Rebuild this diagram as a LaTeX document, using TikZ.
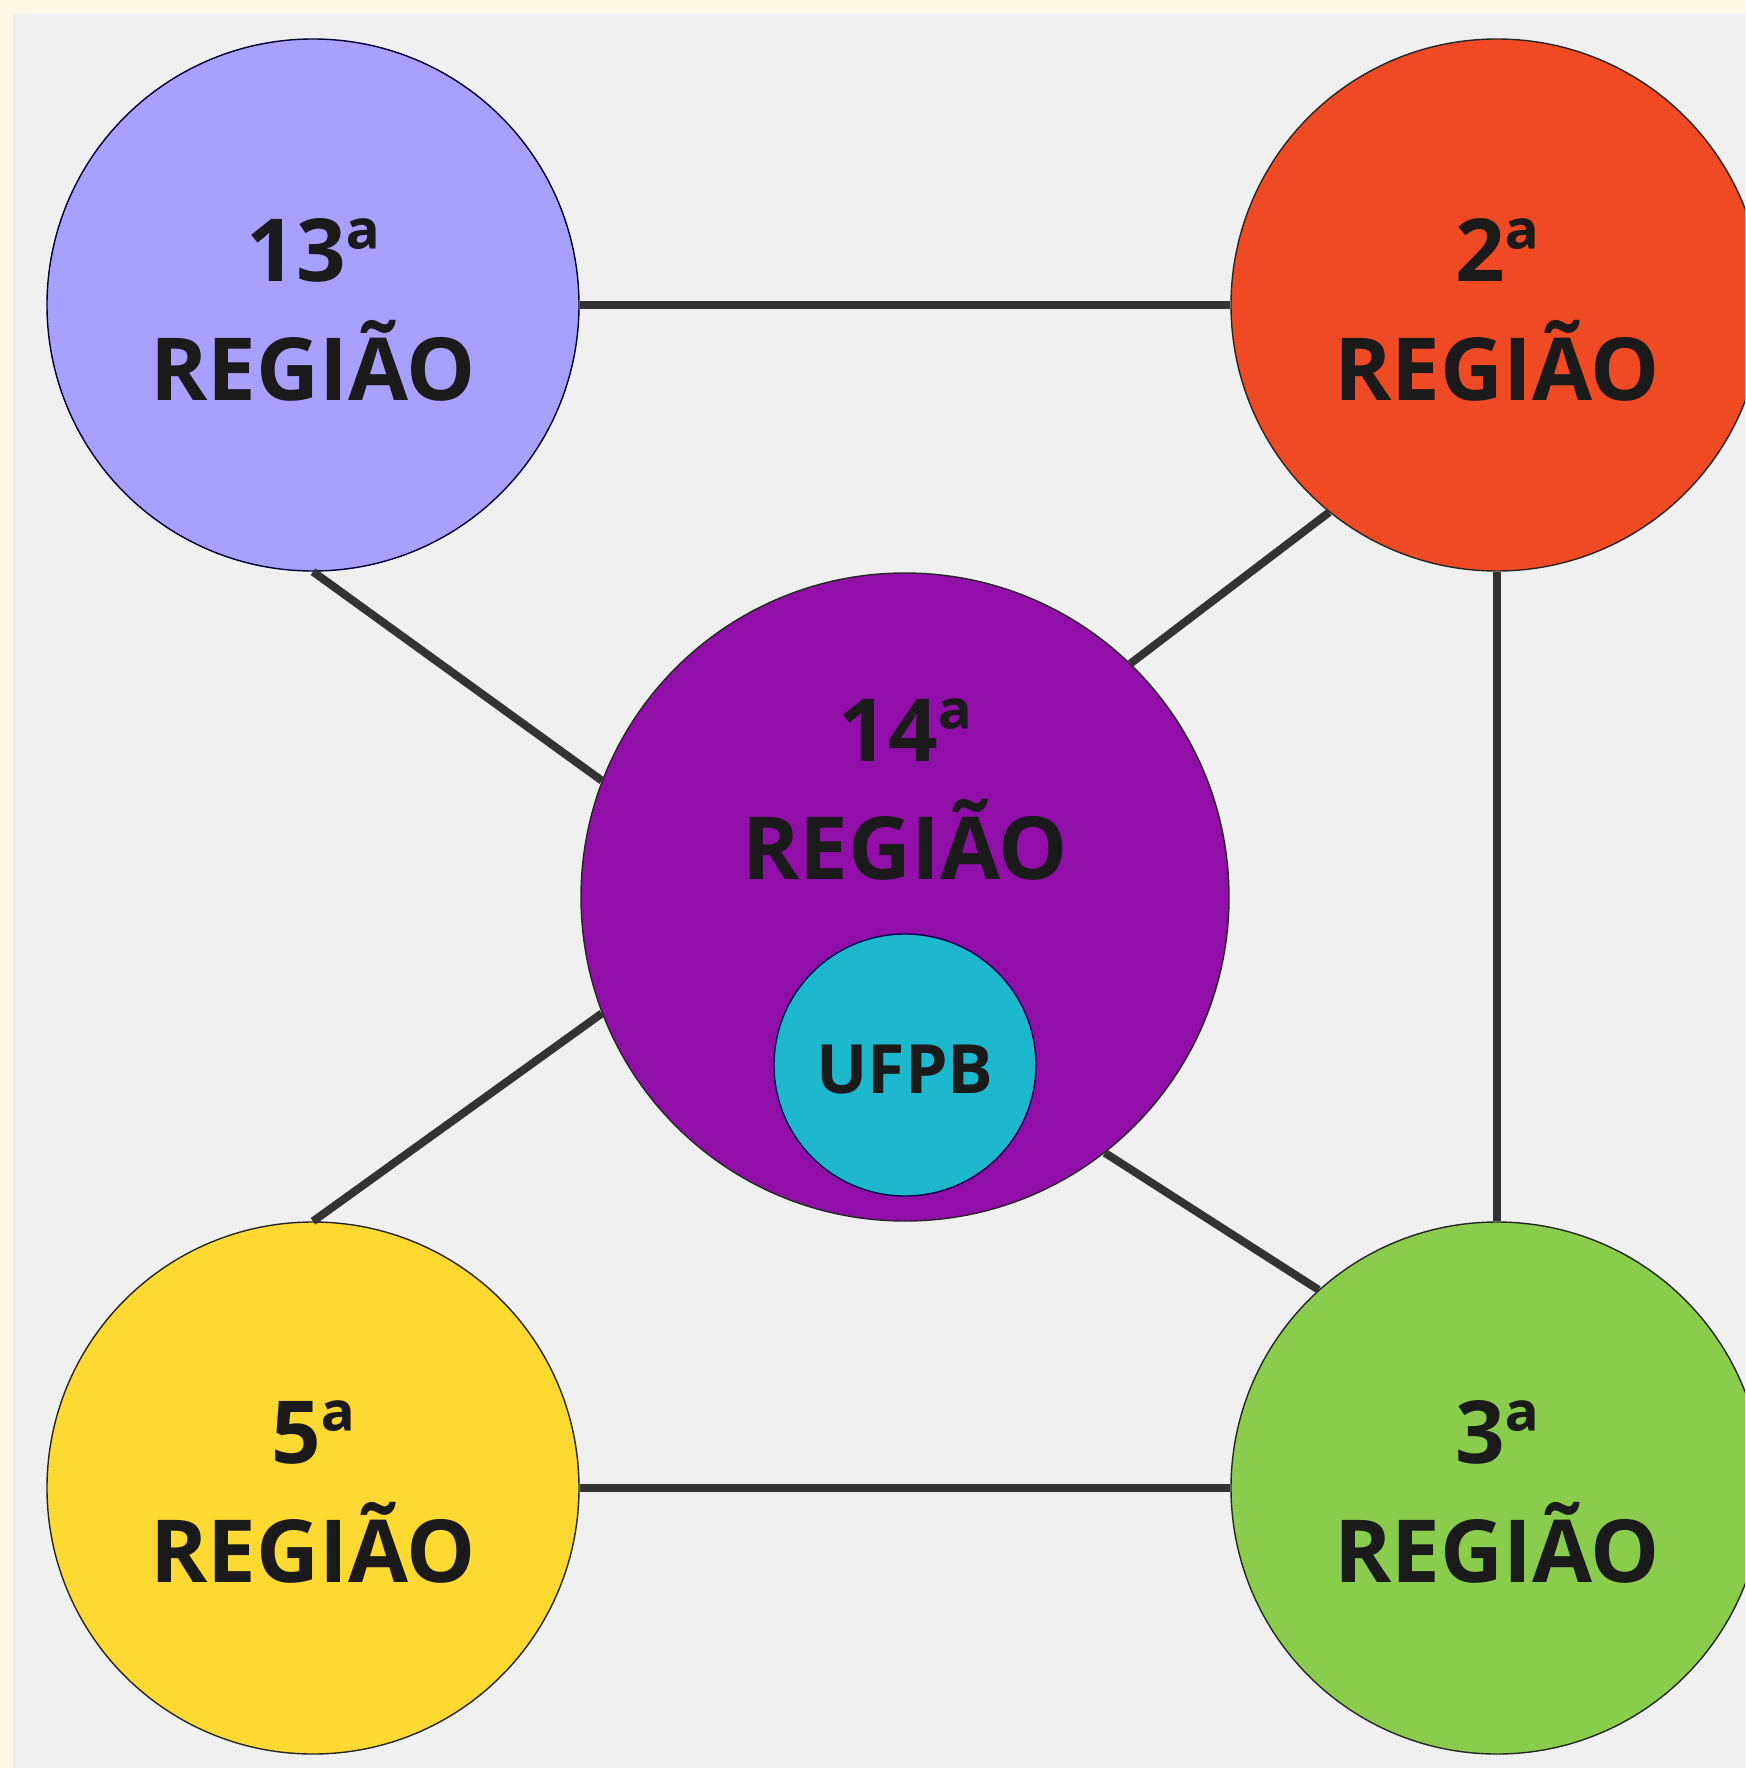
\documentclass[tikz,border=0pt]{standalone}
\usepackage{fontspec}
\setmainfont{Open Sans}
\begin{document}
\begin{tikzpicture}[x=1pt,y=-1pt,
  region/.style={circle, draw=#1, line width=1.4pt, inner sep=0pt, minimum size=532pt},
  bignum/.style={anchor=base, font=\fontsize{87}{104}\selectfont\bfseries, text=txt, inner sep=0pt},
  link/.style={draw=linkc, line width=8pt}]
\definecolor{cream}{RGB}{255,248,229}
\definecolor{panel}{RGB}{240,240,240}
\definecolor{lilac}{RGB}{168,160,254}
\definecolor{redor}{RGB}{239,74,35}
\definecolor{purp}{RGB}{145,14,168}
\definecolor{cyanc}{RGB}{29,184,206}
\definecolor{yell}{RGB}{254,217,50}
\definecolor{greenc}{RGB}{138,204,75}
\definecolor{txt}{RGB}{26,26,26}
\definecolor{linkc}{RGB}{51,51,51}
\useasboundingbox (0,0) rectangle (1745,1768);
\fill[cream] (0,0) rectangle (1745,1768);
\fill[panel] (13,13) rectangle (1745,1768);
\begin{scope}
\clip (13,13) rectangle (1745,1768);
\node[region=black!80!blue, fill=lilac] (r13) at (313,305) {};
\node[region=black!85, fill=redor] (r2) at (1497,305) {};
\node[region=black!85, fill=yell] (r5) at (313,1488) {};
\node[region=black!85, fill=greenc] (r3) at (1497,1488) {};
\node[region=black!85, fill=purp, minimum size=648pt] (r14) at (905,897) {};
\node[region=black!70!blue, fill=cyanc, minimum size=262pt] (ufpb) at (905,1065) {};
\end{scope}
\draw[link] (r13.east) -- (r2.west);
\draw[link] (r5.east) -- (r3.west);
\draw[link] (r2.south) -- (r3.north);
\draw[link] (r13.south) -- (r14.159);
\draw[link] (r2.231) -- (r14.46);
\draw[link] (r5.north) -- (r14.201);
\draw[link] (r3.132) -- (r14.-52);
\node[bignum] (t13a) at (313,282) {13ª};
\node[bignum] (t13b) at (313,400) {REGIÃO};
\node[bignum] (t2a) at (1497,282) {2ª};
\node[bignum] (t2b) at (1497,400) {REGIÃO};
\node[bignum] (t14a) at (905,761) {14ª};
\node[bignum] (t14b) at (905,879) {REGIÃO};
\node[bignum] (t5a) at (313,1463) {5ª};
\node[bignum] (t5b) at (313,1582) {REGIÃO};
\node[bignum] (t3a) at (1497,1463) {3ª};
\node[bignum] (t3b) at (1497,1582) {REGIÃO};
\node[bignum, font=\fontsize{68}{82}\selectfont\bfseries] (tu) at (905,1093) {UFPB};
\end{tikzpicture}
\end{document}
